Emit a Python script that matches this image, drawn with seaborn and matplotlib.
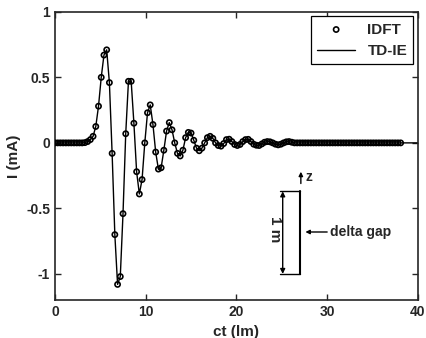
import matplotlib
matplotlib.use("Agg")
import matplotlib.pyplot as plt
import seaborn as sns
import pandas as pd

# IDFT samples (ct in lm, current in mA)
ct = [
    0.0, 0.3, 0.6, 0.9, 1.2, 1.5, 1.8, 2.1, 2.4, 2.7,
    3.0, 3.3, 3.6, 3.9, 4.2, 4.5, 4.8, 5.1, 5.4, 5.7,
    6.0, 6.3, 6.6, 6.9, 7.2, 7.5, 7.8, 8.1, 8.4, 8.7,
    9.0, 9.3, 9.6, 9.9, 10.2, 10.5, 10.8, 11.1, 11.4, 11.7,
    12.0, 12.3, 12.6, 12.9, 13.2, 13.5, 13.8, 14.1, 14.4, 14.7,
    15.0, 15.3, 15.6, 15.9, 16.2, 16.5, 16.8, 17.1, 17.4, 17.7,
    18.0, 18.3, 18.6, 18.9, 19.2, 19.5, 19.8, 20.1, 20.4, 20.7,
    21.0, 21.3, 21.6, 21.9, 22.2, 22.5, 22.8, 23.1, 23.4, 23.7,
    24.0, 24.3, 24.6, 24.9, 25.2, 25.5, 25.8, 26.1, 26.4, 26.7,
    27.0, 27.3, 27.6, 27.9, 28.2, 28.5, 28.8, 29.1, 29.4, 29.7,
    30.0, 30.3, 30.6, 30.9, 31.2, 31.5, 31.8, 32.1, 32.4, 32.7,
    33.0, 33.3, 33.6, 33.9, 34.2, 34.5, 34.8, 35.1, 35.4, 35.7,
    36.0, 36.3, 36.6, 36.9, 37.2, 37.5, 37.8, 38.1,
]
current = [
    0.0, 0.0, 0.0, 0.0, 0.0, 0.0, 0.0, 0.0, 0.0, 0.0,
    0.0, 0.002, 0.01, 0.025, 0.05, 0.125, 0.28, 0.5, 0.67, 0.71,
    0.46, -0.08, -0.70, -1.08, -1.02, -0.54, 0.07, 0.47, 0.47, 0.15,
    -0.22, -0.39, -0.28, 0.0, 0.23, 0.29, 0.14, -0.07, -0.2, -0.19,
    -0.056, 0.09, 0.155, 0.10, 0.0, -0.08, -0.1, -0.056, 0.04, 0.08,
    0.075, 0.02, -0.04, -0.06, -0.04, 0.0, 0.04, 0.05, 0.035, 0.0,
    -0.02, -0.025, -0.005, 0.025, 0.028, 0.01, -0.012, -0.02, -0.012, 0.01,
    0.025, 0.027, 0.01, -0.01, -0.018, -0.02, -0.008, 0.005, 0.01, 0.008,
    0.0, -0.01, -0.015, -0.01, 0.0, 0.008, 0.01, 0.005, 0.0, 0.0,
    0.0, 0.0, 0.0, 0.0, 0.0, 0.0, 0.0, 0.0, 0.0, 0.0,
    0.0, 0.0, 0.0, 0.0, 0.0, 0.0, 0.0, 0.0, 0.0, 0.0,
    0.0, 0.0, 0.0, 0.0, 0.0, 0.0, 0.0, 0.0, 0.0, 0.0,
    0.0, 0.0, 0.0, 0.0, 0.0, 0.0, 0.0, 0.0,
]
# TD-IE solution runs to the end of the axis
td_ct = ct + [39.0, 40.0]
td_current = current + [0.0, 0.0]

x_ticks = [0, 10, 20, 30, 40]
y_ticks = [-1, -0.5, 0, 0.5, 1]
y_ticklabels = ["-1", "-0.5", "0", "0.5", "1"]

df_idft = pd.DataFrame({"ct": ct, "I": current})
df_td = pd.DataFrame({"ct": td_ct, "I": td_current})

sns.set_style("ticks")
plt.rcParams["font.family"] = ["Liberation Sans", "DejaVu Sans"]
plt.rcParams["font.weight"] = "bold"
plt.rcParams["xtick.direction"] = "in"
plt.rcParams["ytick.direction"] = "in"

fig = plt.figure(figsize=(4.26, 3.38), dpi=100)
ax = fig.add_axes([0.129, 0.112, 0.852, 0.853])

sns.scatterplot(data=df_idft, x="ct", y="I", ax=ax, marker="o", s=14,
                facecolor="none", edgecolor="black", linewidth=1.2,
                label="IDFT", zorder=3)
sns.lineplot(data=df_td, x="ct", y="I", ax=ax, color="black", lw=1.0,
             label="TD-IE", zorder=2)

ax.set_xlim(0, 40)
ax.set_ylim(-1.2, 1)
ax.set_xticks(x_ticks)
ax.set_yticks(y_ticks)
ax.set_yticklabels(y_ticklabels)
ax.tick_params(labelsize=10, top=True, right=True, length=4, width=1)
for sp in ax.spines.values():
    sp.set_linewidth(1.2)
ax.set_xlabel("ct (lm)", fontsize=11, fontweight="bold")
ax.set_ylabel("I (mA)", fontsize=11, fontweight="bold")

leg = ax.legend(loc="upper right", fontsize=11, frameon=True, fancybox=False,
                edgecolor="black", framealpha=1, handlelength=2.5,
                borderaxespad=0.3)
leg.get_frame().set_linewidth(0.9)

# delta gap sketch
ax.plot([27.0, 27.0], [-0.37, -1.0], color="black", lw=1.5)
ax.plot([24.8, 27.0], [-0.37, -0.37], color="black", lw=1.0)
ax.plot([24.8, 27.0], [-1.0, -1.0], color="black", lw=1.0)
ax.annotate("", xy=(25.1, -0.37), xytext=(25.1, -1.0),
            arrowprops=dict(arrowstyle="<|-|>", color="black", lw=1.0,
                            mutation_scale=7, shrinkA=0, shrinkB=0))
ax.text(24.2, -0.66, "1 m", rotation=-90, ha="center", va="center",
        fontsize=11, fontweight="bold")
ax.annotate("", xy=(27.1, -0.22), xytext=(27.1, -0.31),
            arrowprops=dict(arrowstyle="-|>", color="black", lw=1.0,
                            mutation_scale=6, shrinkA=0, shrinkB=0))
ax.text(27.6, -0.26, "z", ha="left", va="center", fontsize=10,
        fontweight="bold")
ax.annotate("", xy=(27.6, -0.68), xytext=(30.0, -0.68),
            arrowprops=dict(arrowstyle="-|>", color="black", lw=1.0,
                            mutation_scale=6, shrinkA=0, shrinkB=0))
ax.text(30.3, -0.68, "delta gap", ha="left", va="center", fontsize=10,
        fontweight="bold")

fig.savefig("out.png", dpi=100)
